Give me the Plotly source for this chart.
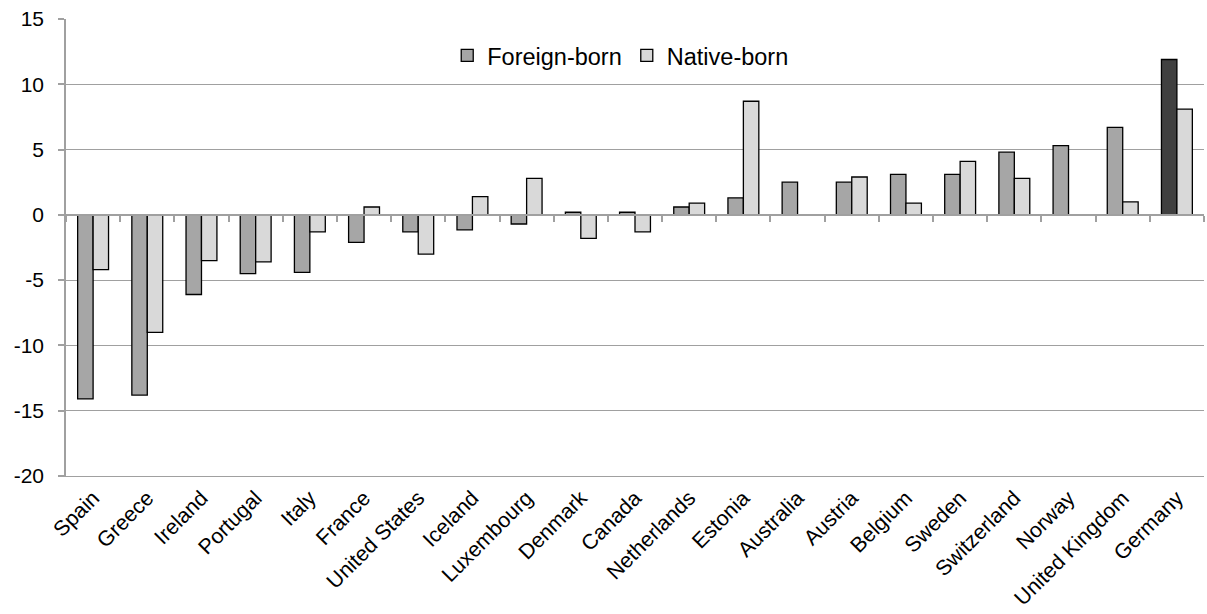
import plotly.graph_objects as go

countries = ["Spain", "Greece", "Ireland", "Portugal", "Italy", "France", "United States",
             "Iceland", "Luxembourg", "Denmark", "Canada", "Netherlands", "Estonia",
             "Australia", "Austria", "Belgium", "Sweden", "Switzerland", "Norway",
             "United Kingdom", "Germany"]
foreign_born = [-14.1, -13.8, -6.1, -4.5, -4.4, -2.1, -1.3, -1.15, -0.7, 0.2, 0.2, 0.6, 1.3,
                2.5, 2.5, 3.1, 3.1, 4.8, 5.3, 6.7, 11.9]
native_born = [-4.2, -9.0, -3.5, -3.6, -1.3, 0.6, -3.0, 1.4, 2.8, -1.8, -1.3, 0.9, 8.7,
               None, 2.9, 0.9, 4.1, 2.8, None, 1.0, 8.1]
y_tick_values = [-20, -15, -10, -5, 0, 5, 10, 15]
y_tick_labels = ["-20", "-15", "-10", "-5", "0", "5", "10", "15"]

FOREIGN = "#a6a6a6"
NATIVE = "#d9d9d9"
HIGHLIGHT = "#404040"
GRID = "#a0a0a0"
FONT = "Liberation Sans, Arial, sans-serif"

foreign_colors = [HIGHLIGHT if c == "Germany" else FOREIGN for c in countries]

fig = go.Figure()
fig.add_trace(go.Bar(
    name="Foreign-born", x=countries, y=foreign_born,
    marker=dict(color=foreign_colors, line=dict(color="black", width=1.3)),
))
fig.add_trace(go.Bar(
    name="Native-born", x=countries, y=native_born,
    marker=dict(color=NATIVE, line=dict(color="black", width=1.3)),
))
# invisible trace to host the zero-line category axis
fig.add_trace(go.Scatter(x=[], y=[], xaxis="x2", yaxis="y", showlegend=False,
                         hoverinfo="skip"))

n = len(countries)
boundaries = [k + 0.5 for k in range(-1, n)]

fig.update_layout(
    width=1207, height=614,
    margin=dict(l=66, r=3, t=19, b=138),
    paper_bgcolor="white", plot_bgcolor="white",
    font=dict(family=FONT, color="black", size=20),
    barmode="group", bargap=0.43, bargroupgap=0,
    showlegend=True,
    legend=dict(orientation="h", x=0.335, y=0.92, xanchor="left", yanchor="middle",
                font=dict(size=23.5, family=FONT), bgcolor="rgba(0,0,0,0)",
                traceorder="normal", itemclick=False),
    xaxis=dict(type="category", showgrid=False, ticks="", tickangle=-45,
               tickfont=dict(size=21.3, family=FONT), showline=True,
               linecolor=GRID, linewidth=1.3,
               range=[-0.5, n - 0.5], automargin=False),
    xaxis2=dict(overlaying="x", anchor="free", position=20 / 35, type="linear",
                range=[-0.5, n - 0.5], tickvals=boundaries, showticklabels=False,
                ticks="outside", ticklen=6, tickcolor=GRID, tickwidth=1.5,
                showline=True, linecolor=GRID, linewidth=1.5, showgrid=False,
                zeroline=False, automargin=False),
    yaxis=dict(range=[-20, 15], tickvals=y_tick_values, ticktext=y_tick_labels,
               showgrid=True, gridcolor=GRID,
               gridwidth=1.3, zeroline=False, showline=True, linecolor=GRID,
               linewidth=1.5, ticks="outside", ticklen=6, tickcolor=GRID,
               tickwidth=1.5, tickfont=dict(size=21, family=FONT),
               ticklabelstandoff=10, automargin=False),
)

fig.write_html(
    "out.html",
    config={"displayModeBar": False},
    post_script="document.body.style.margin='0';document.body.style.overflow='hidden';",
)
